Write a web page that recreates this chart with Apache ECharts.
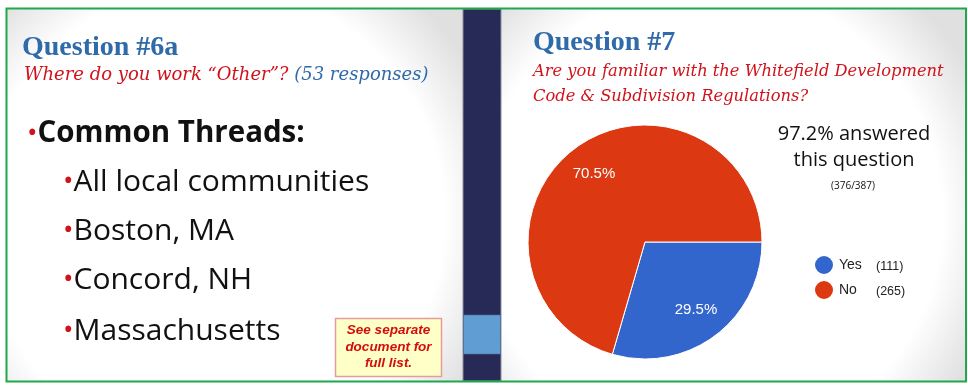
<!DOCTYPE html>
<html>
<head>
<meta charset="utf-8">
<script src="https://cdn.jsdelivr.net/npm/echarts@6/dist/echarts.min.js"></script>
<style>
  html, body { margin: 0; padding: 0; background: #ffffff; }
  #chart { width: 968px; height: 387px; }
</style>
</head>
<body>
<div id="chart"></div>
<script>
// Survey slide data
const leftTitle = 'Question #6a';
const leftQuestion = 'Where do you work \u201cOther\u201d?';
const leftResponses = '(53 responses)';
const threadsHeading = 'Common Threads:';
const threadItems = ['All local communities', 'Boston, MA', 'Concord, NH', 'Massachusetts'];
const noteLines = ['See separate', 'document for', 'full list.'];

const rightTitle = 'Question #7';
const rightQuestionLines = ['Are you familiar with the Whitefield Development', 'Code & Subdivision Regulations?'];
const answeredLines = ['97.2% answered', 'this question'];
const answeredCount = '(376/387)';

const pieCategories = ['Yes', 'No'];
const piePercents = [29.5, 70.5];
const pieCounts = [111, 265];
const pieColors = ['#3366cc', '#dc3912'];

// canvas 'middle' sits this far above the baseline (fraction of font size)
function mid(baseline, size, k) { return baseline - size * k; }

const chart = echarts.init(document.getElementById('chart'), null, { renderer: 'canvas' });

const vignette = (cx, cy, r) => ({
  type: 'radial', x: cx, y: cy, r: r,
  colorStops: [
    { offset: 0, color: '#ffffff' },
    { offset: 0.78, color: '#ffffff' },
    { offset: 1, color: '#e0e0e0' }
  ]
});

const graphics = [];

// slide backgrounds
graphics.push({ type: 'rect', z: -10, shape: { x: 7, y: 9, width: 457, height: 372 }, style: { fill: vignette(0.45, 0.56, 0.8) } });
graphics.push({ type: 'rect', z: -10, shape: { x: 501, y: 9, width: 465, height: 372 }, style: { fill: vignette(0.45, 0.56, 0.8) } });
// pasted chart panel
graphics.push({ type: 'rect', z: -9, shape: { x: 528, y: 116, width: 300, height: 247 }, style: { fill: '#ffffff' } });

// divider strip
graphics.push({ type: 'rect', z: -8, shape: { x: 463, y: 9, width: 38, height: 372 }, style: { fill: '#272a56', stroke: '#8d8f9f', lineWidth: 1 } });
graphics.push({ type: 'rect', z: -7, shape: { x: 463.5, y: 315, width: 37, height: 39 }, style: { fill: '#609dd2', stroke: '#4a6fa0', lineWidth: 0.6 } });

// outer frame
graphics.push({ type: 'rect', z: 50, shape: { x: 6.5, y: 8.5, width: 959.5, height: 373 }, style: { fill: 'none', stroke: '#1fa84a', lineWidth: 2 } });

// left slide text
graphics.push({ type: 'text', z: 5, style: { text: leftTitle, x: 22, y: mid(57, 28, 0.34), verticalAlign: 'middle', font: 'bold 28px "Liberation Serif"', fill: '#2f6aa9' } });
graphics.push({ type: 'text', z: 5, style: {
  text: '{r|' + leftQuestion + '}{s| }{b|' + leftResponses + '}',
  x: 24, y: mid(82, 18, 0.346), verticalAlign: 'middle',
  rich: {
    r: { font: 'italic 18px "DejaVu Serif"', fill: '#d0121b' },
    s: { font: 'italic 18px "DejaVu Serif"', fill: '#d0121b' },
    b: { font: 'italic 18px "DejaVu Serif"', fill: '#2f6aa9' }
  }
} });
graphics.push({ type: 'text', z: 5, style: {
  text: '{d|\u2022}{t|' + threadsHeading + '}',
  x: 27, y: mid(145, 29.5, 0.388), verticalAlign: 'middle',
  rich: {
    d: { font: '28px "Open Sans"', fill: '#d0121b' },
    t: { font: 'bold 29.5px "Open Sans"', fill: '#111111' }
  }
} });
const itemBaselines = [194, 243, 292, 343];
threadItems.forEach((item, i) => {
  graphics.push({ type: 'text', z: 5, style: {
    text: '{d|\u2022}{t|' + item + '}',
    x: 63, y: mid(itemBaselines[i], 30, 0.388), verticalAlign: 'middle',
    rich: {
      d: { font: '28px "Open Sans"', fill: '#d0121b' },
      t: { font: '30px "Open Sans"', fill: '#111111' }
    }
  } });
});

// note box
graphics.push({ type: 'rect', z: 6, shape: { x: 335.5, y: 318.5, width: 106, height: 58 }, style: { fill: '#ffffc8', stroke: '#e79b9b', lineWidth: 1.5 } });
const noteBaselines = [335, 352, 368];
noteLines.forEach((line, i) => {
  graphics.push({ type: 'text', z: 7, style: { text: line, x: 388.5, y: mid(noteBaselines[i], 13.5, 0.35), align: 'center', verticalAlign: 'middle', font: 'italic bold 13.5px "Liberation Sans"', fill: '#d40d0d' } });
});

// right slide text
graphics.push({ type: 'text', z: 5, style: { text: rightTitle, x: 533, y: mid(52, 28, 0.34), verticalAlign: 'middle', font: 'bold 28px "Liberation Serif"', fill: '#2f6aa9' } });
[77, 102].forEach((b, i) => {
  graphics.push({ type: 'text', z: 5, style: { text: rightQuestionLines[i], x: 533, y: mid(b, 16.3, 0.346), verticalAlign: 'middle', font: 'italic 16.3px "DejaVu Serif"', fill: '#d0121b' } });
});
[142, 168].forEach((b, i) => {
  graphics.push({ type: 'text', z: 5, style: { text: answeredLines[i], x: 854, y: mid(b, 20, 0.388), align: 'center', verticalAlign: 'middle', font: '20px "Open Sans"', fill: '#111111' } });
});
graphics.push({ type: 'text', z: 5, style: { text: answeredCount, x: 853, y: mid(190, 10, 0.388), align: 'center', verticalAlign: 'middle', font: '10px "Open Sans"', fill: '#111111' } });

const pieData = pieCategories.map((name, i) => ({ name: name, value: piePercents[i], itemStyle: { color: pieColors[i] } }));
const countByName = {};
pieCategories.forEach((n, i) => { countByName[n] = pieCounts[i]; });

chart.setOption({
  animation: false,
  backgroundColor: '#ffffff',
  graphic: graphics,
  legend: {
    orient: 'vertical',
    left: 808,
    top: 249,
    icon: 'circle',
    itemWidth: 20,
    itemHeight: 20,
    itemGap: 3,
    selectedMode: false,
    data: pieCategories.map((n, i) => ({ name: n, itemStyle: { color: pieColors[i] } })),
    formatter: name => '{n|' + name + '}{c|(' + countByName[name] + ')}',
    textStyle: {
      rich: {
        n: { width: 37, fontSize: 14, fontFamily: 'Liberation Sans', color: '#222222' },
        c: { fontSize: 12.5, fontFamily: 'Liberation Sans', color: '#222222', padding: [3, 0, 0, 0] }
      }
    }
  },
  series: [
    {
      type: 'pie',
      center: [645, 242],
      radius: 117,
      startAngle: 0,
      clockwise: true,
      silent: true,
      label: { show: false },
      labelLine: { show: false },
      itemStyle: { borderColor: '#ffffff', borderWidth: 1 },
      emphasis: { disabled: true },
      data: pieData
    },
    {
      // ring used only to seat the percentage labels at 0.7 of the radius
      type: 'pie',
      center: [645, 242],
      radius: [47, 117],
      startAngle: 0,
      clockwise: true,
      silent: true,
      z: 3,
      itemStyle: { color: 'rgba(0,0,0,0)', borderWidth: 0 },
      label: {
        show: true,
        position: 'inside',
        formatter: p => p.value.toFixed(1) + '%',
        color: '#ffffff',
        fontSize: 15,
        fontFamily: 'Liberation Sans'
      },
      labelLine: { show: false },
      emphasis: { disabled: true },
      data: pieCategories.map((name, i) => ({ name: name, value: piePercents[i] }))
    }
  ]
});
</script>
</body>
</html>
